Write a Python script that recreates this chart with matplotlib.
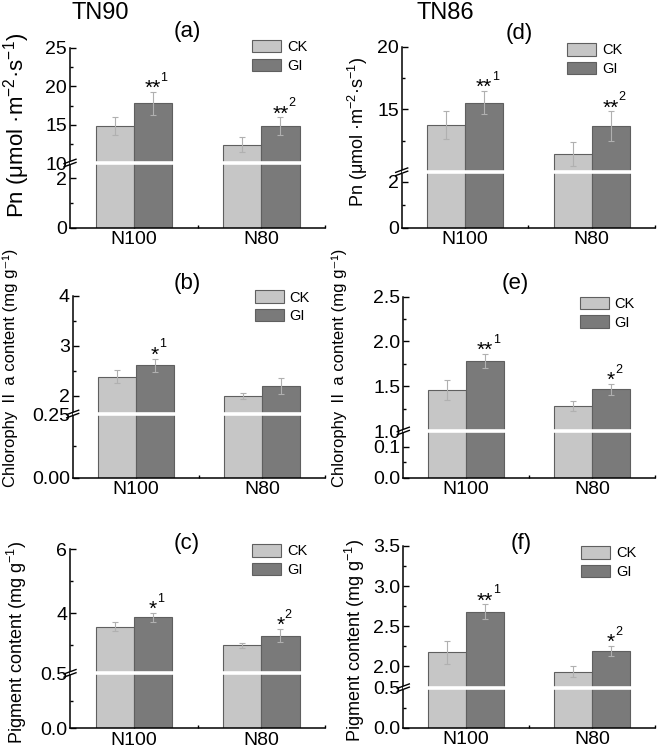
import numpy as np
import matplotlib
matplotlib.use('Agg')
import matplotlib.pyplot as plt
from matplotlib.patches import Patch
from matplotlib.scale import FuncScale
from matplotlib.ticker import FixedLocator, FixedFormatter

plt.rcParams['font.family'] = ['Liberation Sans', 'Noto Sans CJK SC', 'DejaVu Sans']
plt.rcParams['mathtext.fontset'] = 'custom'
plt.rcParams['mathtext.rm'] = 'Liberation Sans'
plt.rcParams['mathtext.it'] = 'Liberation Sans:italic'
plt.rcParams['mathtext.bf'] = 'Liberation Sans:bold'

# ---- data ----
groups = ['N100', 'N80']

# TN90
pn90_ck = [14.85, 12.4]
pn90_ck_err = [1.2, 1.0]
pn90_gi = [17.8, 14.8]
pn90_gi_err = [1.5, 1.15]

chl90_ck = [2.38, 1.99]
chl90_ck_err = [0.13, 0.06]
chl90_gi = [2.61, 2.19]
chl90_gi_err = [0.13, 0.16]

pig90_ck = [3.58, 3.0]
pig90_ck_err = [0.15, 0.08]
pig90_gi = [3.87, 3.3]
pig90_gi_err = [0.14, 0.21]

# TN86
pn86_ck = [13.74, 11.45]
pn86_ck_err = [1.15, 0.95]
pn86_gi = [15.53, 13.66]
pn86_gi_err = [0.95, 1.17]

chl86_ck = [1.455, 1.28]
chl86_ck_err = [0.114, 0.058]
chl86_gi = [1.78, 1.466]
chl86_gi_err = [0.08, 0.06]

pig86_ck = [2.17, 1.93]
pig86_ck_err = [0.146, 0.07]
pig86_gi = [2.68, 2.19]
pig86_gi_err = [0.09, 0.06]

# significance marks above GI bars (stars, superscript)
sig_a = [('**', '1'), ('**', '2')]
sig_b = [('*', '1'), None]
sig_c = [('*', '1'), ('*', '2')]
sig_d = [('**', '1'), ('**', '2')]
sig_e = [('**', '1'), ('*', '2')]
sig_f = [('**', '1'), ('*', '2')]

pn_label = 'Pn (μmol ·m$^{-2}$·s$^{-1}$)'
chl_label = 'Chlorophy Ⅱ a content (mg g⁻¹)'
pig_label = 'Pigment content (mg g$^{-1}$)'

CK_COLOR = '#c6c6c6'
GI_COLOR = '#7a7a7a'
EDGE = '#5f5f5f'

W, H = 659, 748


def px_rect(x0, x1, ytop, ybot):
    return [x0 / W, 1 - ybot / H, (x1 - x0) / W, (ybot - ytop) / H]


def broken_scale(lo_top, hi_bot, hi_top, frac):
    def fwd(y):
        y = np.asarray(y, dtype=float)
        return np.where(y <= lo_top, y / lo_top * frac,
                        np.where(y >= hi_bot,
                                 frac + (y - hi_bot) / (hi_top - hi_bot) * (1 - frac),
                                 frac))

    def inv(u):
        u = np.asarray(u, dtype=float)
        return np.where(u <= frac, u / frac * lo_top,
                        hi_bot + (u - frac) / (1 - frac) * (hi_top - hi_bot))
    return fwd, inv


def panel(fig, rect, ck, ck_err, gi, gi_err, sig, brk, majors, major_labels, minors,
          ylabel, ylab_pos, ylab_size, letter, letter_pos, leg_anchor):
    lo_top, hi_bot, hi_top, frac = brk
    ax = fig.add_axes(rect)
    ax.set_yscale(FuncScale(ax.yaxis, broken_scale(lo_top, hi_bot, hi_top, frac)))
    ax.set_ylim(0, hi_top)
    ax.set_xlim(0.5, 2.5)

    x = np.array([1.0, 2.0])
    bw = 0.3
    ax.bar(x - bw / 2, ck, bw, color=CK_COLOR, edgecolor=EDGE, linewidth=0.8, zorder=2)
    ax.bar(x + bw / 2, gi, bw, color=GI_COLOR, edgecolor=EDGE, linewidth=0.8, zorder=2)
    ax.errorbar(x - bw / 2, ck, yerr=ck_err, fmt='none', ecolor='#b0b0b0',
                elinewidth=0.8, capsize=2, capthick=0.8, zorder=3)
    ax.errorbar(x + bw / 2, gi, yerr=gi_err, fmt='none', ecolor='#b0b0b0',
                elinewidth=0.8, capsize=2, capthick=0.8, zorder=3)

    # white gap across the bars at the break
    ax.axhline(lo_top, color='white', lw=2.6, zorder=4)

    # break marks on the y axis
    bb = ax.get_position()
    wpx, hpx = bb.width * W, bb.height * H
    for s in (-1.6, 1.6):
        ax.plot([-6 / wpx, 6 / wpx], [frac + (s - 2.2) / hpx, frac + (s + 2.2) / hpx],
                transform=ax.transAxes, color='black', lw=1.0, clip_on=False, zorder=6)

    for i, mark in enumerate(sig):
        if mark is None:
            continue
        stars, sup = mark
        top = gi[i] + gi_err[i]
        ax.annotate(stars, (x[i] + bw / 2, top), xytext=(0, -1.5), textcoords='offset points',
                    ha='center', va='baseline', fontsize=15)
        ax.annotate(sup, (x[i] + bw / 2, top), xytext=(0.3 + 2.6 * len(stars), 8),
                    textcoords='offset points', ha='left', va='baseline', fontsize=9)

    ax.yaxis.set_major_locator(FixedLocator(majors))
    ax.yaxis.set_major_formatter(FixedFormatter(major_labels))
    ax.yaxis.set_minor_locator(FixedLocator(minors))
    ax.set_xticks(x)
    ax.set_xticklabels(groups)
    ax.set_xticks([1.5, 2.5], minor=True)
    ax.tick_params(axis='both', which='major', direction='in', length=4.5, width=1.0,
                   labelsize=14)
    ax.tick_params(axis='both', which='minor', direction='in', length=2.5, width=1.0)
    ax.tick_params(axis='x', which='major', pad=2.5)
    ax.tick_params(axis='y', which='major', pad=2)
    for side in ('top', 'right'):
        ax.spines[side].set_visible(False)
    for side in ('left', 'bottom'):
        ax.spines[side].set_linewidth(1.1)

    fig.text(ylab_pos[0] / W, 1 - ylab_pos[1] / H, ylabel, rotation=90,
             ha='center', va='center', fontsize=ylab_size)
    fig.text(letter_pos[0] / W, 1 - letter_pos[1] / H, letter,
             ha='center', va='center', fontsize=16)

    handles = [Patch(facecolor=CK_COLOR, edgecolor=EDGE, linewidth=0.8, label='CK'),
               Patch(facecolor=GI_COLOR, edgecolor=EDGE, linewidth=0.8, label='GI')]
    ax.legend(handles=handles, loc='upper right', bbox_to_anchor=leg_anchor,
              frameon=False, fontsize=10.5, handlelength=2.0, handleheight=0.95,
              labelspacing=0.3, handletextpad=0.4, borderpad=0, borderaxespad=0)
    return ax


fig = plt.figure(figsize=(W / 100, H / 100), dpi=100)

panel(fig, px_rect(70, 325, 48, 228), pn90_ck, pn90_ck_err, pn90_gi, pn90_gi_err, sig_a,
      (2.6, 10, 25, 0.361), [0, 2, 10, 15, 20, 25], ['0', '2', '10', '15', '20', '25'],
      [1, 12.5, 17.5, 22.5], pn_label, (17, 125), 16, '(a)', (187, 32), (0.93, 1.045))

panel(fig, px_rect(72.7, 325, 295.7, 477.7), chl90_ck, chl90_ck_err, chl90_gi, chl90_gi_err,
      sig_b, (0.25, 1.63, 4, 0.35), [0, 0.25, 2, 3, 4], ['0.00', '0.25', '2', '3', '4'],
      [0.125, 2.5, 3.5], chl_label, (10, 368), 12, '(b)', (187, 283), (0.94, 1.03))

panel(fig, px_rect(70, 325, 549.3, 728.3), pig90_ck, pig90_ck_err, pig90_gi, pig90_gi_err,
      sig_c, (0.5, 2.12, 6, 0.307), [0, 0.5, 4, 6], ['0.0', '0.5', '4', '6'],
      [0.25, 3, 5], pig_label, (17, 642), 13, '(c)', (187, 543), (0.93, 1.03))

panel(fig, px_rect(401.7, 655, 46.7, 227.7), pn86_ck, pn86_ck_err, pn86_gi, pn86_gi_err,
      sig_d, (2.43, 10, 20, 0.309), [0, 2, 15, 20], ['0', '2', '15', '20'],
      [1, 12.5, 17.5], pn_label, (358, 132), 13, '(d)', (519, 33), (0.87, 1.02))

panel(fig, px_rect(403.3, 655, 296.7, 477.7), chl86_ck, chl86_ck_err, chl86_gi, chl86_gi_err,
      sig_e, (0.15, 1.0, 2.5, 0.258), [0, 0.1, 1.0, 1.5, 2.0, 2.5],
      ['0.0', '0.1', '1.0', '1.5', '2.0', '2.5'], [0.05, 1.25, 1.75, 2.25],
      chl_label, (339, 368), 12, '(e)', (515, 284), (0.92, 1.0))

panel(fig, px_rect(403.3, 655, 546, 727.7), pig86_ck, pig86_ck_err, pig86_gi, pig86_gi_err,
      sig_f, (0.5, 1.73, 3.5, 0.22), [0, 0.5, 2.0, 2.5, 3.0, 3.5],
      ['0.0', '0.5', '2.0', '2.5', '3.0', '3.5'], [0.25, 2.25, 2.75, 3.25],
      pig_label, (355, 640), 13, '(f)', (521, 544), (0.925, 1.0))

fig.text(100 / W, 1 - 13 / H, 'TN90', ha='center', va='center', fontsize=17)
fig.text(445 / W, 1 - 13 / H, 'TN86', ha='center', va='center', fontsize=17)

fig.savefig('out.png', dpi=100)
